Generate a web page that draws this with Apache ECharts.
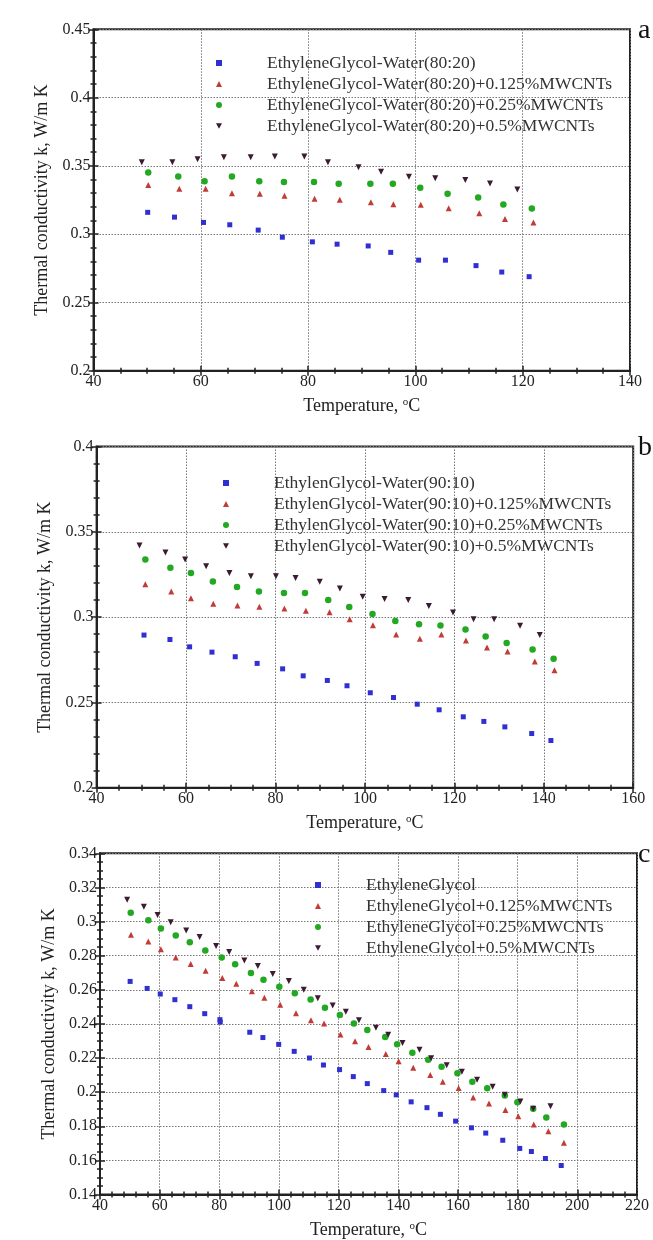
<!DOCTYPE html>
<html><head><meta charset="utf-8">
<script src="https://cdn.jsdelivr.net/npm/echarts/dist/echarts.min.js"></script>
<style>html,body{margin:0;padding:0;background:#fff}#c{width:653px;height:1240px}</style>
</head><body><div id="c"></div>
<script>
// ---------- Panel a : EG-Water (80:20) ----------
const aNames = ['EthyleneGlycol-Water(80:20)','EthyleneGlycol-Water(80:20)+0.125%MWCNTs','EthyleneGlycol-Water(80:20)+0.25%MWCNTs','EthyleneGlycol-Water(80:20)+0.5%MWCNTs'];
const aT_base = [50.1,55.1,60.5,65.4,70.7,75.2,80.8,85.4,91.2,95.4,100.6,105.6,111.3,116.1,121.2];
const aK_base = [0.316,0.3125,0.3086,0.3069,0.303,0.2978,0.2944,0.2927,0.2914,0.2867,0.281,0.281,0.277,0.2723,0.2689];
const aT_125 = [50.2,56.0,60.9,65.8,71.0,75.6,81.2,85.9,91.7,95.9,101.0,106.2,111.9,116.7,122.0];
const aK_125 = [0.336,0.3333,0.3333,0.330,0.3297,0.3282,0.326,0.3253,0.3233,0.322,0.3215,0.319,0.3153,0.3112,0.3085];
const aT_25 = [50.2,55.8,60.7,65.8,70.9,75.5,81.1,85.7,91.6,95.8,100.9,106.0,111.7,116.4,121.7];
const aK_25 = [0.3451,0.3422,0.3387,0.3422,0.3387,0.3382,0.3382,0.337,0.337,0.337,0.334,0.3296,0.3269,0.3218,0.3189];
const aT_5 = [49.0,54.7,59.4,64.3,69.3,73.8,79.3,83.7,89.4,93.6,98.8,103.7,109.3,113.9,119.0];
const aK_5 = [0.3527,0.3527,0.3549,0.3564,0.3564,0.3569,0.3569,0.3527,0.349,0.3457,0.3421,0.3409,0.3397,0.3372,0.3328];

// ---------- Panel b : EG-Water (90:10) ----------
const bNames = ['EthylenGlycol-Water(90:10)','EthylenGlycol-Water(90:10)+0.125%MWCNTs','EthylenGlycol-Water(90:10)+0.25%MWCNTs','EthylenGlycol-Water(90:10)+0.5%MWCNTs'];
const bT_base = [50.6,56.4,60.8,65.8,71.0,75.9,81.6,86.2,91.6,96.0,101.2,106.4,111.7,116.6,122.0,126.6,131.3,137.3,141.6];
const bK_base = [0.2895,0.2869,0.2826,0.2795,0.2768,0.2729,0.2697,0.2656,0.2629,0.2598,0.2557,0.2529,0.249,0.2457,0.2416,0.2389,0.2357,0.2318,0.2277];
const bT_125 = [50.9,56.7,61.1,66.1,71.5,76.4,82.0,86.8,92.1,96.6,101.8,107.0,112.3,117.1,122.6,127.3,131.9,138.0,142.4];
const bK_125 = [0.3193,0.315,0.3111,0.3078,0.3068,0.3061,0.3051,0.3037,0.3029,0.2988,0.2953,0.2898,0.2873,0.2898,0.2863,0.2822,0.2799,0.274,0.2689];
const bT_25 = [50.9,56.5,61.1,66.0,71.4,76.3,81.9,86.6,91.8,96.5,101.7,106.8,112.1,116.9,122.5,127.0,131.7,137.5,142.2];
const bK_25 = [0.3338,0.3289,0.3258,0.3209,0.3176,0.315,0.3141,0.3141,0.31,0.3059,0.3018,0.2977,0.2959,0.2951,0.2928,0.2887,0.2848,0.2811,0.2756];
const bT_5 = [49.6,55.4,59.8,64.5,69.7,74.5,80.1,84.5,89.9,94.4,99.5,104.4,109.7,114.3,119.7,124.3,128.9,134.7,139.1];
const bK_5 = [0.342,0.3379,0.3338,0.3299,0.3258,0.324,0.324,0.323,0.3207,0.3168,0.3119,0.3107,0.31,0.3066,0.3027,0.2988,0.2988,0.2949,0.2895];

// ---------- Panel c : pure EG ----------
const cNames = ['EthyleneGlycol','EthyleneGlycol+0.125%MWCNTs','EthyleneGlycol+0.25%MWCNTs','EthyleneGlycol+0.5%MWCNTs'];
const cT_base = [50.1,55.8,60.2,65.1,70.1,75.1,80.2,80.3,90.2,94.6,99.9,105.1,110.2,114.9,120.3,124.9,129.6,135.1,139.3,144.3,149.6,154.1,159.2,164.5,169.3,175.0,180.7,184.6,189.3,194.6];
const cK_base = [0.2649,0.2608,0.2575,0.2542,0.2501,0.246,0.2425,0.2411,0.2351,0.232,0.228,0.2239,0.22,0.2159,0.2132,0.2091,0.205,0.2009,0.1984,0.1943,0.1909,0.187,0.183,0.1791,0.176,0.1718,0.167,0.1652,0.1611,0.157];
const cT_125 = [50.4,56.2,60.4,65.4,70.4,75.4,81.0,85.7,90.9,95.1,100.4,105.7,110.7,115.1,120.6,125.5,130.0,135.8,140.1,145.0,150.7,154.9,160.2,165.1,170.4,175.9,180.2,185.4,190.3,195.5];
const cK_125 = [0.2922,0.2883,0.2838,0.2789,0.2751,0.2712,0.2669,0.2636,0.2591,0.2554,0.2512,0.2463,0.2422,0.2403,0.2338,0.2299,0.2264,0.2223,0.2181,0.2143,0.2101,0.2061,0.2025,0.1969,0.1934,0.1896,0.1859,0.181,0.1771,0.1703];
const cT_25 = [50.3,56.2,60.4,65.4,70.1,75.3,80.8,85.3,90.6,94.8,100.1,105.3,110.6,115.4,120.4,125.1,129.6,135.6,139.6,144.7,150.0,154.5,159.8,164.8,169.8,175.7,179.9,185.2,189.6,195.5];
const cK_25 = [0.3051,0.3008,0.2959,0.2918,0.2879,0.283,0.2789,0.2749,0.2698,0.2659,0.2618,0.258,0.2543,0.2495,0.2452,0.2403,0.2364,0.2323,0.228,0.2231,0.219,0.2149,0.211,0.2061,0.2023,0.198,0.1941,0.1902,0.1851,0.181];
const cT_5 = [49.1,54.7,59.3,63.7,68.9,73.4,78.9,83.3,88.4,92.9,97.9,103.3,108.3,113.0,118.0,122.4,126.8,132.5,136.6,141.4,147.1,151.0,156.2,161.3,166.4,171.6,175.7,180.9,185.2,191.0];
const cK_5 = [0.3127,0.3086,0.3039,0.2996,0.2947,0.291,0.2856,0.2821,0.2772,0.2739,0.2692,0.2651,0.26,0.2551,0.2508,0.2471,0.2421,0.2378,0.2337,0.2288,0.2249,0.2198,0.2157,0.2119,0.2072,0.2031,0.1984,0.1945,0.1902,0.1918];

// axis ranges and labels
const xRanges = [[40,140,20],[40,160,20],[40,220,20]];
const yRanges = [[0.2,0.45,0.05],[0.2,0.4,0.05],[0.14,0.34,0.02]];
const panelLetters = ['a','b','c'];
const yTitle = 'Thermal conductivity k, W/m K';

const FONT = '"Liberation Serif","Times New Roman",serif';
const colors = ['#2f2fd2','#c23b36','#22a822','#3b1a32'];
const symbols = ['rect','triangle','circle','path://M0,0L10,0L5,9Z'];
const sizes = [5,6,6.5,6];

const grids = [
  {left:93.5, top:29.3, width:536.5, height:341.5},
  {left:96.6, top:446.5, width:536.6, height:341.3},
  {left:100, top:853.3, width:537, height:341.7}
];
const legendPos = [{left:211,top:49},{left:218,top:469},{left:310,top:871}];
const yNameGap = [37, 39, 42];
const xMinorSplit = [4,4,5];
const yMinorSplit = [5,5,4];

const zip = (xs, ys) => xs.map((x,i)=>[x, ys[i]]);
const panelSeries = [
  [[aT_base,aK_base],[aT_125,aK_125],[aT_25,aK_25],[aT_5,aK_5]],
  [[bT_base,bK_base],[bT_125,bK_125],[bT_25,bK_25],[bT_5,bK_5]],
  [[cT_base,cK_base],[cT_125,cK_125],[cT_25,cK_25],[cT_5,cK_5]]
];
const panelNames = [aNames,bNames,cNames];

const xAxis = [], yAxis = [], series = [], legend = [], title = [];
grids.forEach((g,i)=>{
  const [xmin,xmax,xint] = xRanges[i];
  const [ymin,ymax,yint] = yRanges[i];
  xAxis.push({
    type:'value', gridIndex:i, min:xmin, max:xmax, interval:xint, position:'bottom',
    name:'Temperature, {s|o}C', nameLocation:'middle', nameGap:26,
    nameTextStyle:{fontFamily:FONT,fontSize:18,color:'#222',rich:{s:{fontFamily:FONT,fontSize:11,color:'#222',verticalAlign:'top',padding:[0,0,8,0]}}},
    axisLine:{show:true,onZero:false,lineStyle:{color:'#222',width:2}},
    axisTick:{show:true,inside:false,length:5,lineStyle:{color:'#222',width:1.5}},
    minorTick:{show:true,splitNumber:xMinorSplit[i],length:3,lineStyle:{color:'#222',width:1.5}},
    axisLabel:{fontFamily:FONT,fontSize:16,color:'#222',margin:3},
    splitLine:{show:true,lineStyle:{color:'#777',type:[1.5,1.5],width:1}}
  });
  xAxis.push({
    type:'value', gridIndex:i, min:xmin, max:xmax, interval:xint, position:'bottom',
    axisLine:{show:false,onZero:false}, axisLabel:{show:false}, splitLine:{show:false},
    axisTick:{show:true,inside:true,length:5,lineStyle:{color:'#222',width:1.5}},
    minorTick:{show:true,splitNumber:xMinorSplit[i],length:3,lineStyle:{color:'#222',width:1.5}}
  });
  yAxis.push({
    type:'value', gridIndex:i, min:ymin, max:ymax, interval:yint, position:'left',
    name:yTitle, nameLocation:'middle', nameGap:yNameGap[i],
    nameTextStyle:{fontFamily:FONT,fontSize:18,color:'#222'},
    axisLine:{show:true,onZero:false,lineStyle:{color:'#222',width:2}},
    axisTick:{show:true,inside:false,length:5,lineStyle:{color:'#222',width:1.5}},
    minorTick:{show:true,splitNumber:yMinorSplit[i],length:3,lineStyle:{color:'#222',width:1.5}},
    axisLabel:{fontFamily:FONT,fontSize:16,color:'#222',margin:3},
    splitLine:{show:true,lineStyle:{color:'#777',type:[1.5,1.5],width:1}}
  });
  yAxis.push({
    type:'value', gridIndex:i, min:ymin, max:ymax, interval:yint, position:'left',
    axisLine:{show:false,onZero:false}, axisLabel:{show:false}, splitLine:{show:false},
    axisTick:{show:true,inside:true,length:5,lineStyle:{color:'#222',width:1.5}},
    minorTick:{show:true,splitNumber:yMinorSplit[i],length:3,lineStyle:{color:'#222',width:1.5}}
  });
  panelSeries[i].forEach((pair,j)=>{
    series.push({
      type:'scatter', name:panelNames[i][j], xAxisIndex:2*i, yAxisIndex:2*i,
      data:zip(pair[0],pair[1]), symbol:symbols[j], symbolSize:sizes[j],
      itemStyle:{color:colors[j],opacity:1}, emphasis:{disabled:true}, z:3
    });
  });
  legend.push({
    data:panelNames[i].map((n,j)=>({name:n,icon:symbols[j]})),
    orient:'vertical', left:legendPos[i].left, top:legendPos[i].top,
    itemWidth:6, itemHeight:6, itemGap:3, selectedMode:false,
    textStyle:{fontFamily:FONT,fontSize:17.5,color:'#333',lineHeight:18,padding:[0,0,0,40]}
  });
  title.push({text:panelLetters[i], left:633, top:g.top-18,
    textStyle:{fontFamily:FONT,fontSize:28,fontWeight:'normal',color:'#111'}});
});

const chart = echarts.init(document.getElementById('c'), null, {renderer:'canvas'});
chart.setOption({
  backgroundColor:'#fff',
  animation:false,
  title,
  grid: grids.map(g=>Object.assign({show:true,borderColor:'#222',borderWidth:2,backgroundColor:'transparent'},g)),
  xAxis, yAxis, series, legend
});
</script></body></html>
